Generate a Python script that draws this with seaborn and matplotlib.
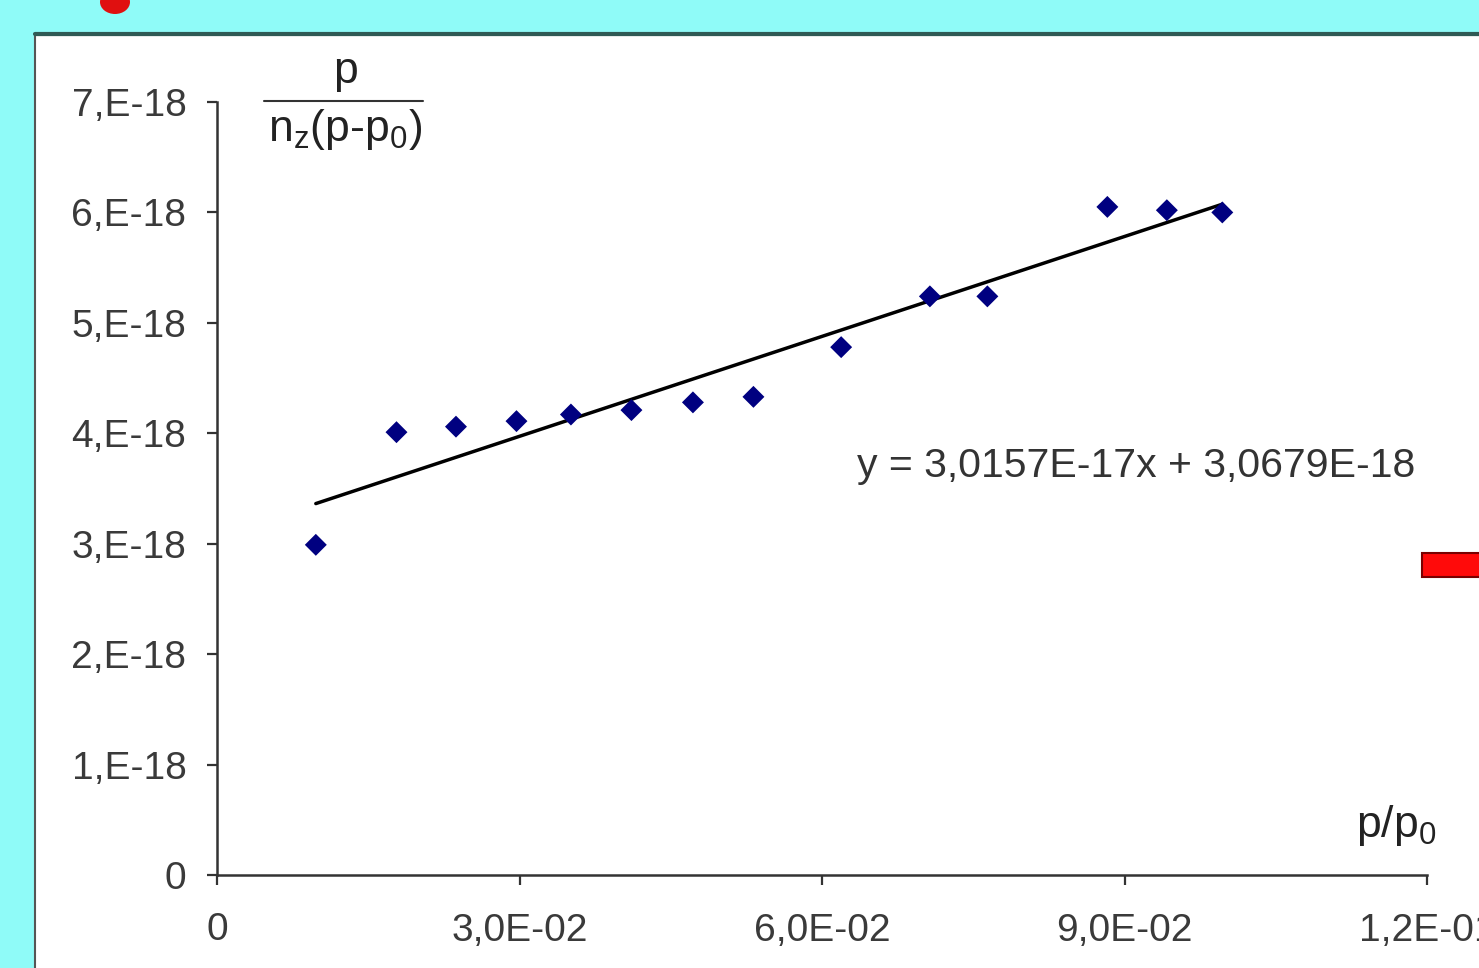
import matplotlib
matplotlib.use("Agg")
import matplotlib.pyplot as plt
import seaborn as sns
import numpy as np
import pandas as pd
from matplotlib.patches import Rectangle, Ellipse
from matplotlib.lines import Line2D

# ---- data ----
x_ratio = [0.0098, 0.0178, 0.0237, 0.0297, 0.0351, 0.0411, 0.0472,
           0.0532, 0.0619, 0.0707, 0.0764, 0.0883, 0.0942, 0.0997]
y_value = [2.99e-18, 4.01e-18, 4.06e-18, 4.11e-18, 4.17e-18, 4.21e-18, 4.28e-18,
           4.33e-18, 4.78e-18, 5.24e-18, 5.24e-18, 6.05e-18, 6.02e-18, 6.00e-18]
trend_slope = 3.0157e-17
trend_intercept = 3.0679e-18
trend_label = "y = 3,0157E-17x + 3,0679E-18"
x_ticks = [0, 0.03, 0.06, 0.09, 0.12]
x_tick_labels = ["0", "3,0E-02", "6,0E-02", "9,0E-02", "1,2E-01"]
y_ticks = [0, 1e-18, 2e-18, 3e-18, 4e-18, 5e-18, 6e-18, 7e-18]
y_tick_labels = ["0", "1,E-18", "2,E-18", "3,E-18", "4,E-18", "5,E-18", "6,E-18", "7,E-18"]

sns.set_theme(style="white")
plt.rcParams["font.family"] = ["Liberation Sans", "DejaVu Sans"]
plt.rcParams["mathtext.fontset"] = "custom"
plt.rcParams["mathtext.rm"] = "Liberation Sans"

W, H = 1479, 968
fig = plt.figure(figsize=(W / 100, H / 100), dpi=100, facecolor="#8ffbf8")

# white panel
fig.patches.append(Rectangle((35 / W, -0.05), 1.1, 1 - 35 / H + 0.05, transform=fig.transFigure,
                             facecolor="white", edgecolor="#555555", linewidth=1.5, zorder=-2))
fig.lines.append(Line2D([35 / W, 1.0], [1 - 34 / H, 1 - 34 / H], transform=fig.transFigure,
                        color="#2f5a55", linewidth=3, zorder=-1))
# red decorations
fig.patches.append(Ellipse((115 / W, 1 - 2 / H), 30 / W, 24 / H, transform=fig.transFigure,
                           facecolor="#e01010", edgecolor="none", zorder=1))
fig.patches.append(Rectangle((1422 / W, (H - 577) / H), 80 / W, 24 / H, transform=fig.transFigure,
                             facecolor="#ff0a0a", edgecolor="#7a0000", linewidth=1.5, zorder=2))

ax = fig.add_axes([217 / W, 1 - 875 / H, (1427 - 217) / W, (875 - 102) / H])
ax.set_facecolor("none")
ax.set_zorder(1)

df = pd.DataFrame({"x": x_ratio, "y": y_value})
sns.scatterplot(data=df, x="x", y="y", ax=ax, marker="D", s=125, color="#000080",
                edgecolor="none", zorder=3)

xt = np.array([min(x_ratio), max(x_ratio)])
trend = pd.DataFrame({"x": xt, "y": trend_slope * xt + trend_intercept})
sns.lineplot(data=trend, x="x", y="y", ax=ax, color="black", linewidth=2.5, zorder=2)

ax.set_xlim(0, 0.12)
ax.set_ylim(0, 7e-18)
ax.set_xticks(x_ticks, x_tick_labels)
ax.set_yticks(y_ticks, y_tick_labels)
ax.set_xlabel("")
ax.set_ylabel("")
for s in ["top", "right"]:
    ax.spines[s].set_visible(False)
for s in ["left", "bottom"]:
    ax.spines[s].set_color("#333333")
    ax.spines[s].set_linewidth(1.8)
ax.tick_params(axis="both", direction="out", length=7, width=1.6, color="#333333",
               labelsize=28, labelcolor="#3a3a3a", bottom=True, left=True)
ax.tick_params(axis="x", pad=20)
ax.tick_params(axis="y", pad=15)

# equation
fig.text(1136 / W, 1 - 466 / H, trend_label, ha="center", va="center", fontsize=29.5, color="#333333")

# y-axis label as fraction
fig.text(345 / W, 1 - 72 / H, "p", ha="center", va="center", fontsize=32, color="#222222")
fig.lines.append(Line2D([264 / W, 423 / W], [1 - 101 / H, 1 - 101 / H], transform=fig.transFigure,
                        color="#333333", linewidth=1.5))
fig.text(345 / W, 1 - 130 / H, r"n$\mathregular{_z}$(p-p$\mathregular{_0}$)", ha="center",
         va="center", fontsize=32, color="#222222")
# x-axis label
fig.text(1396 / W, 1 - 826 / H, r"p/p$\mathregular{_0}$", ha="center", va="center",
         fontsize=32, color="#222222")

fig.savefig("out.png", dpi=100, facecolor=fig.get_facecolor())
